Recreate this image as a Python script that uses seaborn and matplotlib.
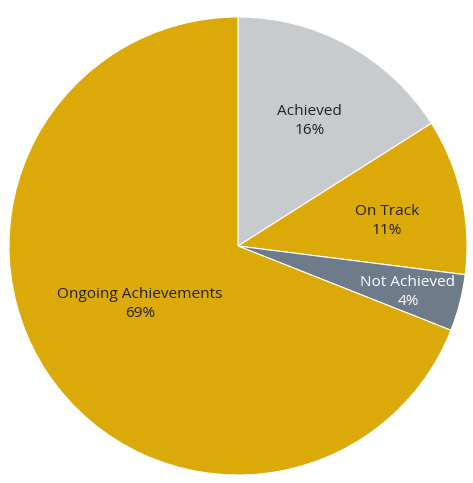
import matplotlib
matplotlib.use("Agg")
import matplotlib.pyplot as plt
import seaborn as sns
import numpy as np

categories = ["Achieved", "On Track", "Not Achieved", "Ongoing Achievements"]
values = [16, 11, 4, 69]
pct_labels = ["16%", "11%", "4%", "69%"]

colors = ["#C8CBCE", "#DBAA09", "#6E7B8B", "#DBAA09"]
text_colors = ["#222222", "#222222", "#ffffff", "#222222"]
label_radius = [0.63, 0.66, 0.769, 0.497]
label_angle_shift = [-1.0, -3.0, -0.7, -3.6]

sns.set_theme(style="white")
plt.rcParams['font.family'] = ['Open Sans', 'DejaVu Sans']

W, H = 473, 483
fig = plt.figure(figsize=(W / 100, H / 100), dpi=100)
cx, cy, R = 238, 483 - 246, 229
ax = fig.add_axes([(cx - R) / W, (cy - R) / H, 2 * R / W, 2 * R / H])

wedges, _ = ax.pie(values, colors=colors, startangle=90, counterclock=False,
                   wedgeprops=dict(edgecolor="white", linewidth=0.8))
ax.set_xlim(-1, 1)
ax.set_ylim(-1, 1)
ax.set_aspect("equal")
ax.axis("off")

total = sum(values)
cum = 0
for cat, v, p, tc, r, sh in zip(categories, values, pct_labels, text_colors,
                                label_radius, label_angle_shift):
    mid = 90 - (cum + v / 2) / total * 360 + sh
    cum += v
    x = r * np.cos(np.radians(mid))
    y = r * np.sin(np.radians(mid))
    ax.text(x, y, f"{cat}\n{p}", ha="center", va="center", color=tc,
            fontsize=11.1, linespacing=1.4)

fig.savefig("out.png", dpi=100, facecolor="white")
